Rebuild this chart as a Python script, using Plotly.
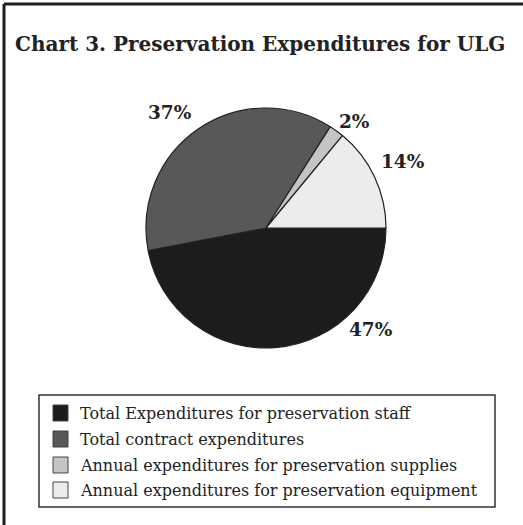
import plotly.graph_objects as go

# Preservation expenditure shares for ULG (percent)
categories = [
    "Total Expenditures for preservation staff",
    "Total contract expenditures",
    "Annual expenditures for preservation supplies",
    "Annual expenditures for preservation equipment",
]
shares = [47, 37, 2, 14]
slice_colors = ["#1c1c1c", "#585858", "#c4c4c4", "#ececec"]

W, H = 523, 525
SERIF = "DejaVu Serif, Liberation Serif, serif"
INK = "#222222"


def px_x(x):
    return x / W


def px_y(y):
    return 1 - y / H


fig = go.Figure(
    go.Pie(
        labels=categories,
        values=shares,
        sort=False,
        direction="clockwise",
        rotation=90,
        marker=dict(colors=slice_colors, line=dict(color=INK, width=1.2)),
        textinfo="none",
        hoverinfo="label+percent",
        domain=dict(x=[px_x(146), px_x(386)], y=[px_y(348), px_y(108)]),
        showlegend=False,
    )
)

annotations = []
shapes = []

# percentage labels placed around the pie
label_pos = [(371, 329), (170, 112), (354, 121), (403, 161)]
for (lx, ly), v in zip(label_pos, shares):
    annotations.append(
        dict(
            x=px_x(lx), y=px_y(ly), xref="paper", yref="paper",
            text=f"<b>{v}%</b>", showarrow=False,
            font=dict(family=SERIF, size=18.5, color=INK),
            xanchor="center", yanchor="middle",
        )
    )

# chart title
annotations.append(
    dict(
        x=px_x(13), y=px_y(44), xref="paper", yref="paper",
        text="<b>Chart 3. Preservation Expenditures for ULG</b>",
        showarrow=False, xanchor="left", yanchor="middle",
        font=dict(family=SERIF, size=20, color=INK),
    )
)

# legend: bordered box with one swatch + label per category
shapes.append(
    dict(type="rect", xref="paper", yref="paper",
         x0=px_x(39), x1=px_x(495), y0=px_y(507), y1=px_y(395),
         line=dict(color="#333333", width=1.5), fillcolor="white", layer="below")
)
row_y = [413, 439, 465, 490]
for name, col, ry in zip(categories, slice_colors, row_y):
    shapes.append(
        dict(type="rect", xref="paper", yref="paper",
             x0=px_x(53), x1=px_x(68), y0=px_y(ry + 8), y1=px_y(ry - 8),
             line=dict(color="#444444", width=1), fillcolor=col)
    )
    annotations.append(
        dict(
            x=px_x(78), y=px_y(ry), xref="paper", yref="paper",
            text=name, showarrow=False, xanchor="left", yanchor="middle",
            font=dict(family=SERIF, size=16, color=INK),
        )
    )

# frame lines along top and left edges
shapes += [
    dict(type="line", xref="paper", yref="paper",
         x0=px_x(4), y0=-0.1, x1=px_x(4), y1=px_y(4),
         line=dict(color="#1e1e1e", width=3)),
    dict(type="line", xref="paper", yref="paper",
         x0=px_x(4), y0=px_y(4), x1=1.1, y1=px_y(4),
         line=dict(color="#1e1e1e", width=3)),
]

fig.update_layout(
    width=W, height=H,
    margin=dict(l=0, r=0, t=0, b=0),
    paper_bgcolor="white",
    plot_bgcolor="white",
    annotations=annotations,
    shapes=shapes,
    showlegend=False,
)

fig.write_html("out.html")
